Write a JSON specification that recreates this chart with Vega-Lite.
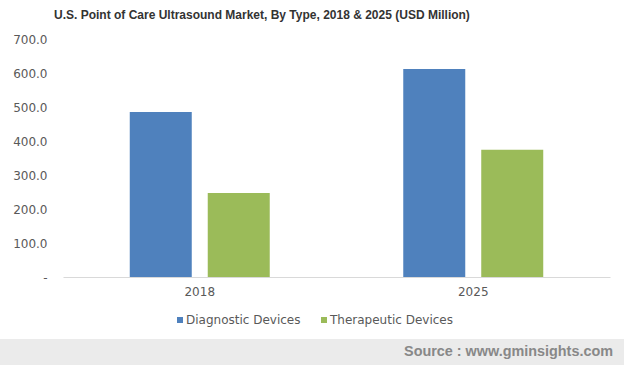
{
  "$schema": "https://vega.github.io/schema/vega-lite/v6.json",
  "padding": {"left": 0, "right": 0, "top": 9, "bottom": 0},
  "background": "white",
  "title": {
    "text": "U.S. Point of Care Ultrasound Market, By Type, 2018 & 2025 (USD Million)",
    "anchor": "start",
    "dx": 54,
    "font": "Liberation Sans",
    "fontSize": 12,
    "fontWeight": "bold",
    "color": "#333333",
    "offset": 11
  },
  "config": {"view": {"stroke": null}},
  "datasets": {
    "market": [
      {"year": "2018", "type": "Diagnostic Devices", "value": 485},
      {"year": "2018", "type": "Therapeutic Devices", "value": 247},
      {"year": "2025", "type": "Diagnostic Devices", "value": 612},
      {"year": "2025", "type": "Therapeutic Devices", "value": 374}
    ],
    "footer": [{"label": "source"}]
  },
  "spacing": 42,
  "vconcat": [
    {
      "width": 610,
      "height": 238,
      "data": {"name": "market"},
      "mark": {"type": "bar"},
      "encoding": {
        "x": {
          "field": "year",
          "type": "nominal",
          "scale": {"paddingInner": 0, "paddingOuter": 0, "range": [63, 610]},
          "axis": {
            "title": null,
            "labelAngle": 0,
            "ticks": false,
            "domainColor": "#d9d9d9",
            "domainWidth": 1,
            "labelFont": "DejaVu Sans",
            "labelFontSize": 12,
            "labelColor": "#595959",
            "labelPadding": 9
          }
        },
        "xOffset": {
          "field": "type",
          "type": "nominal",
          "sort": ["Diagnostic Devices", "Therapeutic Devices"],
          "scale": {"paddingInner": 0.205, "paddingOuter": 0.856}
        },
        "y": {
          "field": "value",
          "type": "quantitative",
          "scale": {"domain": [0, 700]},
          "axis": {
            "title": null,
            "values": [0, 100, 200, 300, 400, 500, 600, 700],
            "grid": false,
            "domain": false,
            "ticks": false,
            "offset": -63,
            "labelPadding": 16,
            "labelFont": "DejaVu Sans",
            "labelFontSize": 12,
            "labelColor": "#595959",
            "labelExpr": "datum.value == 0 ? '-' : format(datum.value, '.1f')"
          }
        },
        "color": {
          "field": "type",
          "type": "nominal",
          "scale": {
            "domain": ["Diagnostic Devices", "Therapeutic Devices"],
            "range": ["#4f81bd", "#9bbb59"]
          },
          "legend": {
            "title": null,
            "orient": "none",
            "legendX": 174,
            "legendY": 275,
            "direction": "horizontal",
            "symbolType": "square",
            "symbolSize": 36,
            "symbolStrokeWidth": 0,
            "labelFont": "DejaVu Sans",
            "labelFontSize": 12,
            "labelColor": "#595959",
            "columnPadding": 17,
            "labelOffset": 0
          }
        }
      }
    },
    {
      "width": 624,
      "height": 26,
      "data": {"name": "footer"},
      "title": {
        "text": "Source : www.gminsights.com",
        "orient": "bottom",
        "anchor": "end",
        "frame": "group",
        "offset": -20,
        "dx": -11,
        "font": "Liberation Sans",
        "fontSize": 14.4,
        "fontWeight": "bold",
        "color": "#888888"
      },
      "mark": {"type": "rect", "color": "#ebebeb"},
      "encoding": {}
    }
  ]
}
